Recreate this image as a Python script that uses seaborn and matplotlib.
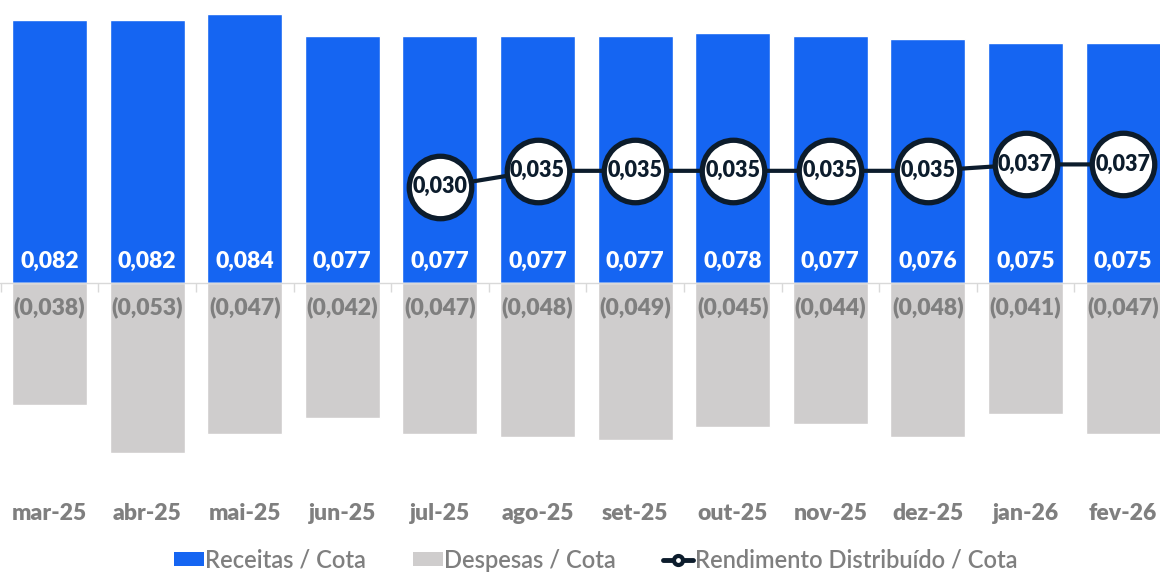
import numpy as np
import pandas as pd
import matplotlib
matplotlib.use("Agg")
import matplotlib.pyplot as plt
from matplotlib.patches import Patch
from matplotlib.lines import Line2D
import seaborn as sns

# ---- data ----
meses = ["mar-25", "abr-25", "mai-25", "jun-25", "jul-25", "ago-25",
         "set-25", "out-25", "nov-25", "dez-25", "jan-26", "fev-26"]
receitas = [0.082, 0.082, 0.084, 0.077, 0.077, 0.077,
            0.077, 0.078, 0.077, 0.076, 0.075, 0.075]
despesas = [-0.038, -0.053, -0.047, -0.042, -0.047, -0.048,
            -0.049, -0.045, -0.044, -0.048, -0.041, -0.047]
rend_meses = ["jul-25", "ago-25", "set-25", "out-25", "nov-25", "dez-25", "jan-26", "fev-26"]
rendimento = [0.030, 0.035, 0.035, 0.035, 0.035, 0.035, 0.037, 0.037]

BLUE = "#1565f2"
GRAY = "#cfcdcd"
NAVY = "#0c1c2c"
TXT_GRAY = "#7f7f7f"

sns.set_style("white")
plt.rcParams["font.family"] = ["Lato", "DejaVu Sans"]

df = pd.DataFrame({"mes": meses, "receitas": receitas, "despesas": despesas})
df["pos"] = np.arange(len(meses))
dl = pd.DataFrame({"mes": rend_meses, "rend": rendimento})
dl["pos"] = [meses.index(m) for m in rend_meses]

W, H = 1160, 574
fig = plt.figure(figsize=(W / 100, H / 100), dpi=100)
ax_bottom_px = 470
ax = fig.add_axes([0, 1 - ax_bottom_px / H, 1, ax_bottom_px / H])

sns.barplot(data=df, x="pos", y="receitas", color=BLUE, width=0.767,
            native_scale=True, saturation=1, ax=ax, zorder=2)
sns.barplot(data=df, x="pos", y="despesas", color=GRAY, width=0.767,
            native_scale=True, saturation=1, ax=ax, zorder=2)

scale = 3205.0  # px per unit
ax.set_ylim(-(ax_bottom_px - 283) / scale, 283 / scale)
step = 97.6
ax.set_xlim(-49.5 / step, (W - 49.5) / step)

# zero line and boundary ticks
ax.axhline(0, color="#d9d9d9", lw=1.0, zorder=3)
ax.vlines(np.arange(len(meses) + 1) - 0.5, -0.0027, 0, color="#d9d9d9", lw=1.0, zorder=3)

sns.lineplot(data=dl, x="pos", y="rend", color=NAVY, lw=3, ax=ax, zorder=4,
             marker="o", markersize=45, markerfacecolor="white",
             markeredgecolor=NAVY, markeredgewidth=3.8)

for i, v in enumerate(receitas):
    ax.text(i, 0.0066, f"{v:.3f}".replace(".", ","), ha="center", va="center",
            color="white", fontsize=16.5, fontweight="heavy", zorder=5)
for i, v in enumerate(despesas):
    ax.text(i, -0.0075, f"({abs(v):.3f})".replace(".", ","), ha="center", va="center",
            color=TXT_GRAY, fontsize=16.5, fontweight="heavy", zorder=5)
for p, v in zip(dl["pos"], rendimento):
    ax.text(p, v, f"{v:.3f}".replace(".", ","), ha="center", va="center",
            color=NAVY, fontsize=15.5, fontweight="heavy", zorder=6)

ax.set_xticks(df["pos"])
ax.set_xticklabels(meses, fontsize=16.5, fontweight="heavy", color=TXT_GRAY)
ax.tick_params(axis="x", length=0, pad=24)
ax.set_yticks([])
ax.set_xlabel("")
ax.set_ylabel("")
for s in ax.spines.values():
    s.set_visible(False)

handles = [
    Patch(facecolor=BLUE, edgecolor="none"),
    Patch(facecolor=GRAY, edgecolor="none"),
    Line2D([0], [0], color=NAVY, lw=3.5, marker="o", markersize=6.5,
           markerfacecolor="white", markeredgecolor=NAVY, markeredgewidth=3),
]
labels = ["Receitas / Cota", "Despesas / Cota", "Rendimento Distribuído / Cota"]
leg = fig.legend(handles, labels, loc="center", bbox_to_anchor=(595.5 / W, 1 - 560 / H),
                 ncol=3, frameon=False, prop={"size": 17, "weight": "semibold"},
                 handlelength=1.27, handleheight=0.55, handletextpad=0.05,
                 columnspacing=2.0)
for t in leg.get_texts():
    t.set_color(TXT_GRAY)

fig.savefig("out.png", dpi=100)
